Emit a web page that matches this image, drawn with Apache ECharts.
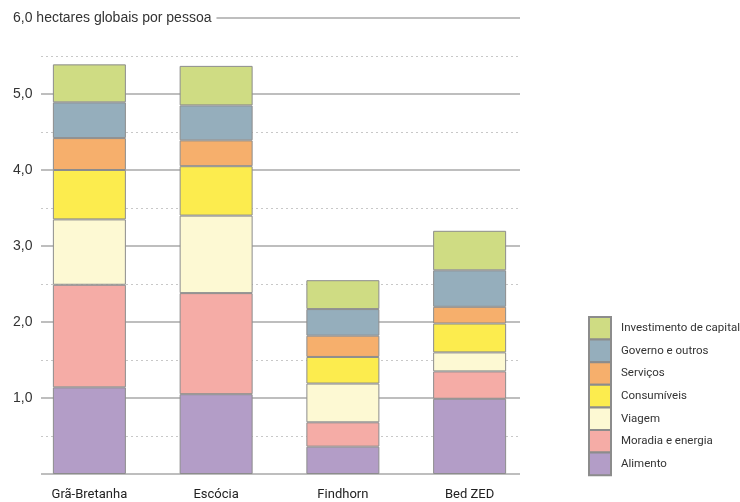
<!DOCTYPE html>
<html>
<head>
<meta charset="utf-8">
<script src="https://cdn.jsdelivr.net/npm/echarts@6/dist/echarts.min.js"></script>
<style>
  html, body { margin: 0; padding: 0; background: #fff; }
  #chart { width: 740px; height: 502px; }
</style>
</head>
<body>
<div id="chart"></div>
<script>
// hectares globais por pessoa, por categoria (segmentos empilhados)
const categories = ['Grã-Bretanha', 'Escócia', 'Findhorn', 'Bed ZED']
const alimento = [1.14, 1.05, 0.36, 0.99]
const moradia = [1.35, 1.33, 0.32, 0.36]
const viagem = [0.86, 1.02, 0.51, 0.25]
const consumiveis = [0.65, 0.65, 0.35, 0.38]
const servicos = [0.42, 0.34, 0.28, 0.22]
const governo = [0.47, 0.46, 0.35, 0.48]
const investimento = [0.50, 0.52, 0.38, 0.52]

const seriesNames = ['Alimento', 'Moradia e energia', 'Viagem', 'Consumíveis', 'Serviços', 'Governo e outros', 'Investimento de capital']
const seriesData = [alimento, moradia, viagem, consumiveis, servicos, governo, investimento]
const seriesColors = ['#b39dc7', '#f5aca6', '#fdf9d3', '#fcec4e', '#f6af6c', '#95aebc', '#cfdc83']

// somewhat narrow face for labels and legend
const narrow = "Roboto, 'Liberation Sans', sans-serif"

const chart = echarts.init(document.getElementById('chart'))

const series = seriesNames.map((name, i) => ({
  name: name,
  type: 'bar',
  stack: 'total',
  xAxisIndex: 2,
  yAxisIndex: 2,
  barWidth: 73,
  data: seriesData[i],
  itemStyle: {
    color: seriesColors[i],
    borderColor: '#8c8c8c',
    borderWidth: 1
  },
  emphasis: { disabled: true }
}))

chart.setOption({
  animation: false,
  backgroundColor: '#fff',
  grid: [
    // solid lines + labels
    { left: 41, right: 220, top: 18, bottom: 28 },
    // dotted half lines
    { left: 41, right: 220, top: 56, bottom: 66 },
    // bars
    { left: 26, right: 207, top: 18, bottom: 28 }
  ],
  xAxis: [
    { gridIndex: 0, type: 'value', show: false },
    { gridIndex: 1, type: 'value', show: false },
    {
      gridIndex: 2,
      type: 'category',
      data: categories,
      axisLine: { show: false },
      axisTick: { show: false },
      axisLabel: {
        margin: 14,
        fontSize: 13,
        fontFamily: narrow,
        color: '#222'
      }
    }
  ],
  yAxis: [
    {
      gridIndex: 0,
      type: 'value',
      min: 0,
      max: 6,
      interval: 1,
      axisLine: { show: false },
      axisTick: { show: false },
      splitLine: { lineStyle: { color: '#a8a8a8', width: 1.5 } },
      axisLabel: {
        align: 'left',
        margin: 28,
        fontSize: 14,
        fontFamily: 'Liberation Sans, Arial, sans-serif',
        color: '#333',
        formatter: function (v) {
          if (v === 0) return ''
          if (v === 6) return '{t|6,0 hectares globais por pessoa}'
          return v.toFixed(1).replace('.', ',')
        },
        rich: {
          t: {
            fontSize: 14,
            color: '#333',
            backgroundColor: '#fff',
            padding: [3, 5, 3, 0]
          }
        }
      }
    },
    {
      gridIndex: 1,
      type: 'value',
      min: 0.5,
      max: 5.5,
      interval: 1,
      axisLine: { show: false },
      axisTick: { show: false },
      axisLabel: { show: false },
      splitLine: { lineStyle: { color: '#c8c8c8', width: 1, type: [2, 3] } }
    },
    { gridIndex: 2, type: 'value', min: 0, max: 6, show: false }
  ],
  legend: {
    orient: 'vertical',
    left: 588,
    top: 316,
    padding: 0,
    itemWidth: 22,
    itemHeight: 22.6,
    itemGap: -2,
    icon: 'rect',
    data: seriesNames.slice().reverse(),
    textStyle: {
      fontSize: 11.5,
      fontFamily: narrow,
      color: '#333',
      padding: [0, 0, 0, 5]
    },
    selectedMode: false
  },
  series: series
})
</script>
</body>
</html>
